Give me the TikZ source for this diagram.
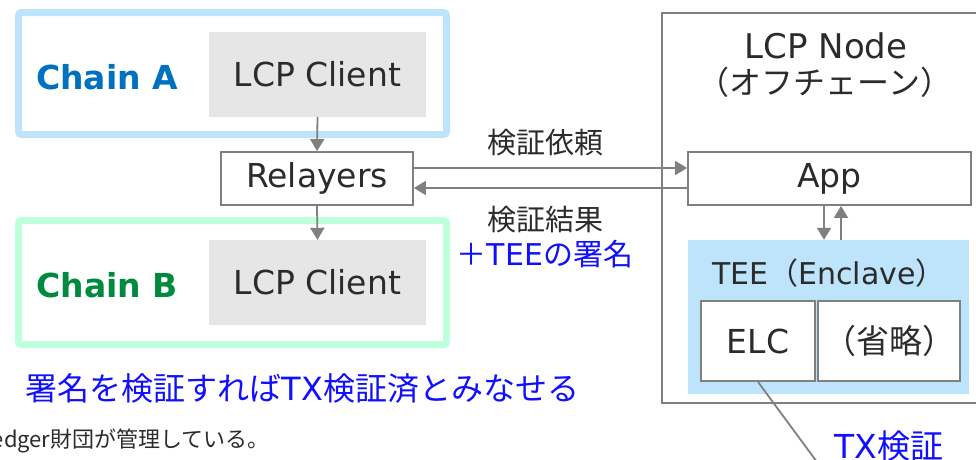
\documentclass[tikz,border=0pt]{standalone}
\usepackage{fontspec}
\setmainfont{DejaVu Sans}
\newfontfamily\cjk{Noto Sans CJK JP}
\usetikzlibrary{arrows.meta}
\definecolor{txt}{HTML}{2B2B2B}
\definecolor{linegray}{HTML}{808080}
\definecolor{cliengray}{HTML}{E6E6E6}
\definecolor{lblue}{HTML}{BEE4FB}
\definecolor{lgreen}{HTML}{BEFFDC}
\definecolor{chainA}{HTML}{0070C0}
\definecolor{chainB}{HTML}{008A3E}
\definecolor{hiblue}{HTML}{1010FF}
\tikzset{
  fs/.style={font=\fontsize{#1}{#1}\selectfont},
  fsb/.style={font=\fontsize{#1}{#1}\selectfont\bfseries},
  fsc/.style={font=\fontsize{#1}{#1}\selectfont\cjk},
  lbl/.style={text=txt, fs=33, inner sep=0pt},
  box/.style={draw=linegray, line width=1.8pt, fill=white, lbl},
  chainbox/.style={draw=#1, line width=7pt, rounded corners=3pt},
  clientbox/.style={fill=cliengray, lbl},
  arr/.style={draw=linegray, line width=1.8pt, -{Triangle[width=14pt,length=12pt]}},
  conn/.style={draw=linegray, line width=1.8pt},
  bluetxt/.style={text=hiblue, inner sep=0pt},
}
\begin{document}
\begin{tikzpicture}[x=1pt,y=-1pt]
\useasboundingbox (0,0) rectangle (976,459);
% Chain A
\node[chainbox=lblue, minimum width=428pt, minimum height=122pt] (chA) at (232.5,73.5) {};
\node[clientbox, minimum width=217pt, minimum height=85pt] (lcpA) at (317.5,74.5) {LCP Client};
\node[text=chainA, fsb=33, inner sep=0pt] (chAt) at (107,77) {Chain A};
% Chain B
\node[chainbox=lgreen, minimum width=428pt, minimum height=124pt] (chB) at (232.5,282.5) {};
\node[clientbox, minimum width=217pt, minimum height=85pt] (lcpB) at (317.5,282.5) {LCP Client};
\node[text=chainB, fsb=33, inner sep=0pt] (chBt) at (107,285) {Chain B};
% Relayers
\node[box, minimum width=192pt, minimum height=53pt] (relay) at (317,178.5) {Relayers};
% LCP Node
\node[draw=linegray, line width=1.8pt, minimum width=323pt, minimum height=390pt] (node) at (823.5,208) {};
\node[lbl, fs=34] (nodet) at (826,46) {LCP Node};
\node[lbl, fsc=32] (nodet2) at (825,82) {（オフチェーン）};
\node[box, minimum width=283pt, minimum height=53pt] (app) at (829.5,178.5) {App};
\node[fill=lblue, minimum width=281pt, minimum height=154pt] (tee) at (828.5,317) {};
\node[lbl, fs=30] (teet) at (829,273) {TEE{\cjk（}Enclave{\cjk）}};
\node[box, minimum width=114pt, minimum height=80pt] (elc) at (758,341) {ELC};
\node[box, minimum width=142pt, minimum height=80pt] (omit) at (889,341) {\cjk（省略）};
% arrows
\draw[arr] (lcpA.south) -- (relay.north);
\draw[arr] (relay.south) -- (lcpB.north);
\draw[arr] ([yshift=10.5pt]relay.east) -- ([yshift=10.5pt]app.west);
\draw[arr] ([yshift=-9.5pt]app.west) -- ([yshift=-9.5pt]relay.east);
\draw[arr] ([xshift=-5.5pt]app.south) -- ([xshift=-5.5pt]app.south |- tee.north);
\draw[arr] ([xshift=11.5pt]app.south |- tee.north) -- ([xshift=11.5pt]app.south);
\coordinate (elcend) at (817,462);
\draw[conn] (elc.south) -- (elcend);
% labels
\node[lbl, fsc=29] (req) at (545,143) {検証依頼};
\node[lbl, fsc=29] (res) at (545,220) {検証結果};
\node[bluetxt, fs=30] (sig) at (545,254) {{\cjk ＋}TEE{\cjk の署名}};
\node[bluetxt, fs=32] (msg) at (302.5,388) {\cjk 署名を検証すれば{\rmfamily TX}検証済とみなせる};
\node[bluetxt, fs=33] (txv) at (889,446) {TX{\cjk 検証}};
\node[text=txt, fsc=22, inner sep=0pt, anchor=east] (foot) at (270,441) {Hyperledger財団が管理している。};
\end{tikzpicture}
\end{document}
